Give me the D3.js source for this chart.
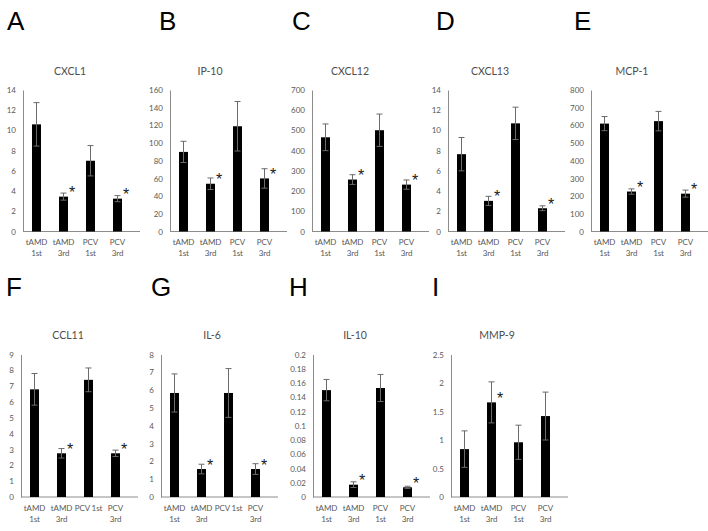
<!DOCTYPE html>
<html><head><meta charset="utf-8">
<script src="https://cdn.jsdelivr.net/npm/d3@7"></script>
<style>
html,body{margin:0;padding:0;background:#fff;}
svg{display:block;}
</style></head>
<body>
<svg id="chart" width="708" height="531"></svg>
<script>
// ---------- DATA ----------
const categories = ["tAMD 1st", "tAMD 3rd", "PCV 1st", "PCV 3rd"];
const panelLetters = ["A", "B", "C", "D", "E", "F", "G", "H", "I"];
const panelTitles = ["CXCL1", "IP-10", "CXCL12", "CXCL13", "MCP-1", "CCL11", "IL-6", "IL-10", "MMP-9"];

const cxcl1Mean  = [10.6, 3.45, 7.0, 3.25];
const cxcl1Err   = [2.15, 0.35, 1.5, 0.3];
const ip10Mean   = [90, 54, 119, 60];
const ip10Err    = [12, 6.5, 28, 11];
const cxcl12Mean = [466, 257, 501, 232];
const cxcl12Err  = [66, 24, 80, 23];
const cxcl13Mean = [7.65, 3.03, 10.7, 2.3];
const cxcl13Err  = [1.65, 0.45, 1.6, 0.24];
const mcp1Mean   = [610, 226, 624, 214];
const mcp1Err    = [40, 15, 55, 20];
const ccl11Mean  = [6.8, 2.76, 7.4, 2.76];
const ccl11Err   = [1.0, 0.3, 0.75, 0.2];
const il6Mean    = [5.84, 1.57, 5.84, 1.57];
const il6Err     = [1.07, 0.27, 1.37, 0.3];
const il10Mean   = [0.150, 0.0173, 0.153, 0.0136];
const il10Err    = [0.015, 0.004, 0.019, 0.0015];
const mmp9Mean   = [0.84, 1.66, 0.96, 1.42];
const mmp9Err    = [0.32, 0.36, 0.3, 0.42];

const sigStd   = [false, true, false, true];
const sigMMP9  = [false, true, false, false];

const ticksCXCL1  = [0, 2, 4, 6, 8, 10, 12, 14];
const ticksIP10   = [0, 20, 40, 60, 80, 100, 120, 140, 160];
const ticksCXCL12 = [0, 100, 200, 300, 400, 500, 600, 700];
const ticksCXCL13 = [0, 2, 4, 6, 8, 10, 12, 14];
const ticksMCP1   = [0, 100, 200, 300, 400, 500, 600, 700, 800];
const ticksCCL11  = [0, 1, 2, 3, 4, 5, 6, 7, 8, 9];
const ticksIL6    = [0, 1, 2, 3, 4, 5, 6, 7, 8];
const ticksIL10   = ["0", "0.02", "0.04", "0.06", "0.08", "0.1", "0.12", "0.14", "0.16", "0.18", "0.2"];
const ticksMMP9   = ["0", "0.5", "1", "1.5", "2", "2.5"];

// x label lines (two-line wrap; in F and G "PCV 1st" fits on one line)
const xLabelsWrapped = [["tAMD", "1st"], ["tAMD", "3rd"], ["PCV", "1st"], ["PCV", "3rd"]];
const xLabelsFG      = [["tAMD", "1st"], ["tAMD", "3rd"], ["PCV 1st"], ["PCV", "3rd"]];

const panels = [
  {mean: cxcl1Mean,  err: cxcl1Err,  ticks: ticksCXCL1,  sig: sigStd,  xl: xLabelsWrapped},
  {mean: ip10Mean,   err: ip10Err,   ticks: ticksIP10,   sig: sigStd,  xl: xLabelsWrapped},
  {mean: cxcl12Mean, err: cxcl12Err, ticks: ticksCXCL12, sig: sigStd,  xl: xLabelsWrapped},
  {mean: cxcl13Mean, err: cxcl13Err, ticks: ticksCXCL13, sig: sigStd,  xl: xLabelsWrapped},
  {mean: mcp1Mean,   err: mcp1Err,   ticks: ticksMCP1,   sig: sigStd,  xl: xLabelsWrapped},
  {mean: ccl11Mean,  err: ccl11Err,  ticks: ticksCCL11,  sig: sigStd,  xl: xLabelsFG},
  {mean: il6Mean,    err: il6Err,    ticks: ticksIL6,    sig: sigStd,  xl: xLabelsFG},
  {mean: il10Mean,   err: il10Err,   ticks: ticksIL10,   sig: sigStd,  xl: xLabelsWrapped},
  {mean: mmp9Mean,   err: mmp9Err,   ticks: ticksMMP9,   sig: sigMMP9, xl: xLabelsWrapped}
];

// ---------- LAYOUT ----------
const layout = [
  {x0: 23,  row: 0, letterX: 7,   titleX: 70},
  {x0: 170, row: 0, letterX: 159, titleX: 210},
  {x0: 312, row: 0, letterX: 292, titleX: 350},
  {x0: 448, row: 0, letterX: 436, titleX: 490},
  {x0: 591, row: 0, letterX: 574, titleX: 632},
  {x0: 21,  row: 1, letterX: 6,   titleX: 68},
  {x0: 161, row: 1, letterX: 151, titleX: 212},
  {x0: 313, row: 1, letterX: 289, titleX: 355},
  {x0: 451, row: 1, letterX: 432, titleX: 497}
];
const rows = [
  {top: 90,  base: 231.5, letterY: 30,  titleY: 75,  lab1: 245, lab2: 256},
  {top: 354.5, base: 497, letterY: 296, titleY: 339, lab1: 511, lab2: 522}
];

const svg = d3.select("#chart");
const FONT = "Lato, 'Open Sans', sans-serif";

panels.forEach((p, i) => {
  const L = layout[i], R = rows[L.row];
  const g = svg.append("g");
  const tickVals = p.ticks.map(Number);
  const yMax = d3.max(tickVals);
  const y = d3.scaleLinear().domain([0, yMax]).range([R.base, R.top]);
  const x = d3.scaleBand().domain(categories).range([L.x0, L.x0 + 108]).paddingInner(0).paddingOuter(0);
  const bw = 9;

  // letter
  svg.append("text").attr("x", L.letterX).attr("y", R.letterY)
    .attr("font-family", "'Liberation Sans', Arial, sans-serif").attr("font-size", 26)
    .attr("fill", "#000").text(panelLetters[i]);
  // title
  svg.append("text").attr("x", L.titleX).attr("y", R.titleY).attr("text-anchor", "middle")
    .attr("font-family", FONT).attr("font-size", 10.5)
    .attr("fill", "#4d4d4d").text(panelTitles[i]);

  // y axis
  const yAxis = d3.axisLeft(y).tickValues(tickVals).tickSize(0).tickPadding(7)
    .tickFormat((d, k) => String(p.ticks[k]));
  const ga = g.append("g").attr("transform", `translate(${L.x0},0)`).call(yAxis);
  ga.select(".domain").attr("stroke", "#8c8c8c").attr("stroke-width", 1);
  ga.selectAll("text").attr("font-family", FONT).attr("font-size", 8).attr("fill", "#595959");

  // x axis line (extends beyond the category bands)
  g.append("line").attr("x1", L.x0).attr("x2", L.x0 + 117)
    .attr("y1", R.base).attr("y2", R.base).attr("stroke", "#8c8c8c").attr("stroke-width", 1);

  const data = categories.map((c, k) => ({c, v: p.mean[k], e: p.err[k], s: p.sig[k], lab: p.xl[k]}));

  // bars
  g.selectAll("rect.bar").data(data).join("rect").attr("class", "bar")
    .attr("x", d => x(d.c) + x.bandwidth() / 2 - bw / 2)
    .attr("width", bw)
    .attr("y", d => y(d.v))
    .attr("height", d => R.base - y(d.v))
    .attr("fill", "#000");

  // error bars
  const eg = g.selectAll("g.err").data(data).join("g").attr("class", "err")
    .attr("stroke", "#6b6b6b").attr("stroke-width", 1);
  eg.append("line")
    .attr("x1", d => x(d.c) + x.bandwidth() / 2).attr("x2", d => x(d.c) + x.bandwidth() / 2)
    .attr("y1", d => y(d.v + d.e)).attr("y2", d => y(d.v - d.e));
  eg.append("line")
    .attr("x1", d => x(d.c) + x.bandwidth() / 2 - 3).attr("x2", d => x(d.c) + x.bandwidth() / 2 + 3)
    .attr("y1", d => y(d.v + d.e)).attr("y2", d => y(d.v + d.e));
  eg.append("line")
    .attr("x1", d => x(d.c) + x.bandwidth() / 2 - 3).attr("x2", d => x(d.c) + x.bandwidth() / 2 + 3)
    .attr("y1", d => y(d.v - d.e)).attr("y2", d => y(d.v - d.e));

  // asterisks
  g.selectAll("text.sig").data(data.filter(d => d.s)).join("text").attr("class", "sig")
    .attr("x", d => x(d.c) + x.bandwidth() / 2 + bw / 2 + 4)
    .attr("y", d => y(d.v) + 1.5)
    .attr("text-anchor", "middle")
    .attr("font-family", "'Liberation Sans', Arial, sans-serif").attr("font-size", 16)
    .attr("fill", "#1a1a1a").text("*");

  // x labels
  data.forEach(d => {
    const cx = x(d.c) + x.bandwidth() / 2;
    const t = g.append("text").attr("text-anchor", "middle")
      .attr("font-family", FONT).attr("font-size", 8).attr("letter-spacing", -0.1)
      .attr("fill", "#595959");
    d.lab.forEach((line, li) => {
      t.append("tspan").attr("x", cx).attr("y", li === 0 ? R.lab1 : R.lab2).text(line);
    });
  });
});
</script>
</body></html>
